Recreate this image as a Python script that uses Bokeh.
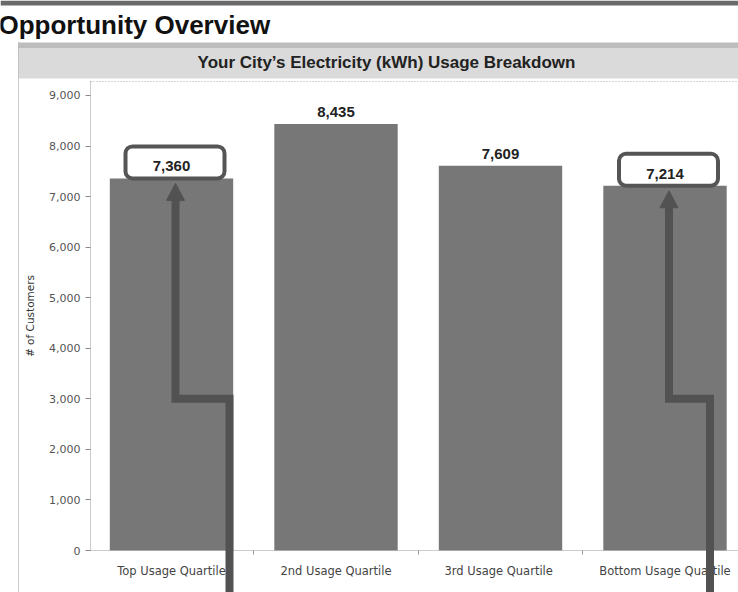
from bokeh.plotting import figure
from bokeh.models import (Range1d, LinearAxis, FixedTicker, NumeralTickFormatter,
                          BoxAnnotation, LabelSet, ColumnDataSource)
from bokeh.core.properties import value
from bokeh.embed import file_html
from bokeh.resources import INLINE

# ---------------- data ----------------
page_title = "Opportunity Overview"
chart_title = "Your City\u2019s Electricity (kWh) Usage Breakdown"
y_axis_title = "# of Customers"
categories = ["Top Usage Quartile", "2nd Usage Quartile", "3rd  Usage Quartile", "Bottom Usage Quartile"]
customers = [7360, 8435, 7609, 7214]
value_labels = ["7,360", "8,435", "7,609", "7,214"]
y_ticks = [0, 1000, 2000, 3000, 4000, 5000, 6000, 7000, 8000, 9000]
highlighted = [0, 3]          # bars whose value is boxed and pointed at
arrow_elbow = 3000            # customers level where the arrows bend

# ---------------- geometry (pixels) ----------------
W, H = 738, 592
SX = 164.5      # px per category slot
SY = 0.05056    # px per customer
PX_X1 = 171     # px of first category centre
PX_Y0 = 550     # px of zero line

x_start = 1 - PX_X1 / SX
x_end = x_start + W / SX
y_top = PX_Y0 / SY
y_bottom = y_top - H / SY


def X(px):
    return x_start + px / SX


def Y(py):
    return y_top - py / SY


def DX(d):
    return d / SX


def DY(d):
    return d / SY


xs = list(range(1, len(categories) + 1))

p = figure(width=W, height=H, x_range=Range1d(x_start, x_end), y_range=Range1d(y_bottom, y_top),
           x_axis_location=None, y_axis_location=None, toolbar_location=None, min_border=0,
           output_backend="svg", outline_line_color=None, title=None,
           background_fill_color="white", border_fill_color="white")
p.grid.visible = False
p.renderers = [r for r in p.renderers]
for g in list(p.center):
    if g.__class__.__name__ == "Grid":
        p.center.remove(g)

# ---------------- page decoration ----------------
p.quad(left=[X(0)], right=[X(W)], top=[Y(0)], bottom=[Y(5)], fill_color="#6a6a6a", line_color=None)
p.quad(left=[X(18)], right=[X(W)], top=[Y(42)], bottom=[Y(48)], fill_color="#bdbdbd", line_color=None)
p.quad(left=[X(18)], right=[X(W)], top=[Y(48)], bottom=[Y(78)], fill_color="#dadada", line_color=None)
p.segment(x0=[X(18)], y0=[Y(42)], x1=[X(18)], y1=[Y(H)], line_color="#999999", line_dash="1 1", line_width=1)
p.segment(x0=[X(90)], y0=[Y(81)], x1=[X(W)], y1=[Y(81)], line_color="#aaaaaa", line_dash="1 2", line_width=1)

p.text(x=[X(-2)], y=[Y(24)], text=[page_title], text_font=value("Liberation Sans"),
       text_font_style="bold", text_font_size="26px", text_color="#111111",
       text_align="left", text_baseline="middle")
p.text(x=[X(386)], y=[Y(62)], text=[chart_title], text_font=value("Liberation Sans"),
       text_font_style="bold", text_font_size="17px", text_color="#222222",
       text_align="center", text_baseline="middle")

# ---------------- bars ----------------
src = ColumnDataSource(dict(x=xs, top=customers, label=value_labels))
p.vbar(x="x", top="top", width=0.75, source=src, fill_color="#777777", line_color=None)

# ---------------- axes ----------------
yax = LinearAxis(fixed_location=X(90), bounds=(0, Y(81)),
                 ticker=FixedTicker(ticks=y_ticks, minor_ticks=[]),
                 formatter=NumeralTickFormatter(format="0,0"),
                 axis_label=y_axis_title)
yax.axis_line_color = "#999999"
yax.axis_line_dash = "1 1"
yax.major_tick_line_color = "#888888"
yax.major_tick_out = 5
yax.major_tick_in = 0
yax.minor_tick_line_color = None
yax.major_label_standoff = 5
yax.major_label_text_font = "DejaVu Sans"
yax.major_label_text_font_size = "11px"
yax.major_label_text_color = "#555555"
yax.axis_label_text_font = "DejaVu Sans"
yax.axis_label_text_font_size = "10.5px"
yax.axis_label_text_font_style = "normal"
yax.axis_label_text_color = "#333333"
yax.axis_label_standoff = 10
p.add_layout(yax, "left")

xax = LinearAxis(fixed_location=0, bounds=(X(90), x_end),
                 ticker=FixedTicker(ticks=xs, minor_ticks=[x + 0.5 for x in xs]),
                 major_label_overrides={x: c for x, c in zip(xs, categories)})
xax.axis_line_color = "#999999"
xax.axis_line_dash = "1 1"
xax.major_tick_line_color = None
xax.minor_tick_line_color = "#999999"
xax.minor_tick_out = 4
xax.minor_tick_in = 0
xax.major_label_standoff = 7
xax.major_label_text_font = "DejaVu Sans"
xax.major_label_text_font_size = "11.5px"
xax.major_label_text_color = "#444444"
p.add_layout(xax, "below")

# ---------------- arrows ----------------
outer_offsets = {0: 58, 3: 45}
for i in highlighted:
    cx = xs[i]
    top = customers[i]
    ox = cx + DX(outer_offsets[i])
    ix = cx + DX(4)
    tip = top - DY(5)
    head_base = tip - DY(17)
    p.line(x=[ox, ox, ix, ix], y=[Y(H + 20), arrow_elbow, arrow_elbow, head_base + DY(2)],
           line_color="#525252", line_width=8, line_join="miter", level="overlay")
    p.patch(x=[ix - DX(9), ix + DX(9), ix], y=[head_base, head_base, tip],
            fill_color="#525252", line_color="#525252", line_width=1, level="overlay")

# ---------------- value boxes & labels ----------------
for i in highlighted:
    cx = xs[i]
    top = customers[i]
    p.add_layout(BoxAnnotation(left=cx - DX(46), right=cx + DX(53), bottom=top, top=top + DY(32),
                               fill_color="white", fill_alpha=1.0, line_color="#555555",
                               line_alpha=1.0, line_width=4, border_radius=7))

p.add_layout(LabelSet(x="x", y="top", text="label", source=src, text_align="center",
                      text_baseline="bottom", y_offset=7, text_font=value("Liberation Sans"),
                      text_font_style="bold", text_font_size="15px", text_color="#222222"))

open("out.html", "w").write(file_html(p, INLINE))
